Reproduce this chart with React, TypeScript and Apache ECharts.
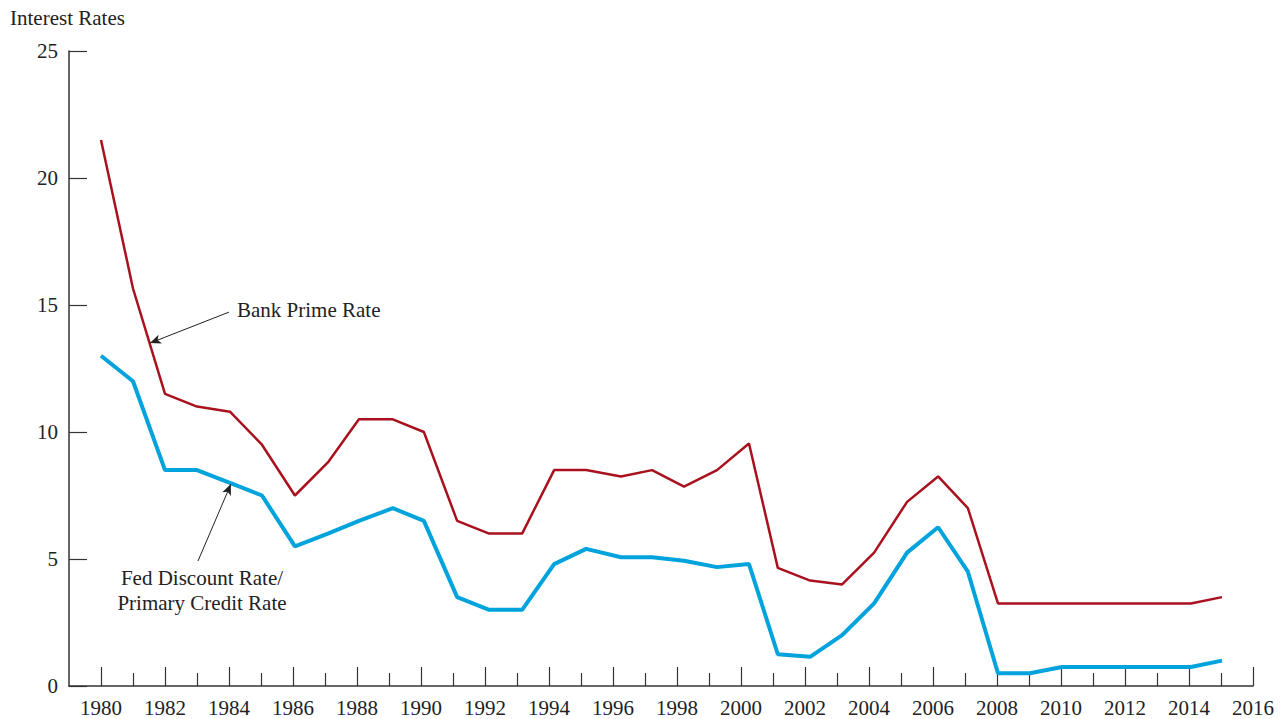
import React, { useEffect, useRef } from "react";
import * as echarts from "echarts";

// x positions (points sit slightly right of the year ticks)
const years = [1980.0, 1981.0, 1982.0, 1983.0, 1984.03, 1985.03, 1986.06, 1987.09, 1988.06, 1989.12, 1990.09, 1991.13, 1992.13, 1993.16, 1994.16, 1995.16, 1996.25, 1997.22, 1998.22, 1999.25, 2000.25, 2001.15, 2002.16, 2003.16, 2004.16, 2005.19, 2006.16, 2007.09, 2008.03, 2009.03, 2010.03, 2011.03, 2012.03, 2013.03, 2014.06, 2015.03];
const primeRate = [21.5, 15.65, 11.5, 11.0, 10.8, 9.5, 7.5, 8.8, 10.5, 10.5, 10.0, 6.5, 6.0, 6.0, 8.5, 8.5, 8.25, 8.5, 7.85, 8.5, 9.55, 4.65, 4.15, 4.0, 5.25, 7.25, 8.25, 7.0, 3.25, 3.25, 3.25, 3.25, 3.25, 3.25, 3.25, 3.5];
const discountRate = [13.0, 12.0, 8.5, 8.5, 8.0, 7.5, 5.5, 6.0, 6.5, 7.0, 6.5, 3.5, 3.0, 3.0, 4.8, 5.4, 5.07, 5.07, 4.93, 4.68, 4.8, 1.25, 1.15, 2.0, 3.25, 5.25, 6.25, 4.5, 0.5, 0.5, 0.75, 0.75, 0.75, 0.75, 0.75, 1.0];
const evenYears = [1980, 1982, 1984, 1986, 1988, 1990, 1992, 1994, 1996, 1998, 2000, 2002, 2004, 2006, 2008, 2010, 2012, 2014, 2016];
const oddYears = [1981, 1983, 1985, 1987, 1989, 1991, 1993, 1995, 1997, 1999, 2001, 2003, 2005, 2007, 2009, 2011, 2013, 2015];
const primeArrow = [[1984.0, 14.72], [1981.53, 13.5]];
const discountArrow = [[1983.03, 4.92], [1984.06, 7.95]];

const FONT = "Liberation Serif";
const AXIS = "#333";
const TEXT = "#222";

export default function App() {
  const ref = useRef<HTMLDivElement>(null);
  useEffect(() => {
    if (!ref.current) return;
    const chart = echarts.init(ref.current, null, { renderer: "svg" });
    const arrowLine = { color: TEXT, width: 1, type: "solid" as const };
    chart.setOption({
      animation: false,
      backgroundColor: "#fff",
      title: {
        text: "Interest Rates",
        left: 5,
        top: 2,
        textStyle: { fontFamily: FONT, fontSize: 21, fontWeight: "normal", color: TEXT },
      },
      grid: { left: 69, right: 35, top: 51, bottom: 33, containLabel: false },
      xAxis: [
        {
          type: "value",
          min: 1979,
          max: 2016,
          interval: 1,
          position: "bottom",
          splitLine: { show: false },
          axisLine: { show: true, onZero: false, lineStyle: { color: AXIS, width: 1.5 } },
          axisTick: { show: true, inside: true, length: 19, customValues: evenYears, lineStyle: { color: AXIS, width: 1.2 } },
          axisLabel: {
            customValues: evenYears,
            margin: 11,
            fontFamily: FONT,
            fontSize: 21,
            color: TEXT,
            formatter: (v: number) => String(v),
          },
        },
        {
          type: "value",
          min: 1979,
          max: 2016,
          interval: 1,
          position: "bottom",
          splitLine: { show: false },
          axisLine: { show: false },
          axisTick: { show: true, inside: true, length: 13, customValues: oddYears, lineStyle: { color: AXIS, width: 1.2 } },
          axisLabel: { show: false },
        },
      ],
      yAxis: {
        type: "value",
        min: 0,
        max: 25,
        interval: 5,
        splitLine: { show: false },
        axisLine: { show: true, lineStyle: { color: AXIS, width: 1.5 } },
        axisTick: { show: true, inside: true, length: 18, lineStyle: { color: AXIS, width: 1.2 } },
        axisLabel: { margin: 11, fontFamily: FONT, fontSize: 21, color: TEXT },
      },
      series: [
        {
          name: "Bank Prime Rate",
          type: "line",
          xAxisIndex: 0,
          data: years.map((y, i) => [y, primeRate[i]]),
          showSymbol: false,
          symbol: "none",
          lineStyle: { color: "#A8111D", width: 2.5 },
          markLine: {
            silent: true,
            symbol: ["none", "arrow"],
            symbolSize: [7, 11],
            label: { show: false },
            lineStyle: arrowLine,
            data: [
              [{ coord: primeArrow[0] }, { coord: primeArrow[1] }],
              [{ coord: discountArrow[0] }, { coord: discountArrow[1] }],
            ],
          },
        },
        {
          name: "Fed Discount Rate/Primary Credit Rate",
          type: "line",
          xAxisIndex: 0,
          data: years.map((y, i) => [y, discountRate[i]]),
          showSymbol: false,
          symbol: "none",
          lineStyle: { color: "#00A3DC", width: 4 },
        },
      ],
      graphic: [
        {
          type: "text",
          left: 237,
          top: 299,
          style: { text: "Bank Prime Rate", fontFamily: FONT, fontSize: 21, fill: TEXT },
        },
        {
          type: "text",
          x: 202,
          y: 565,
          style: {
            text: "Fed Discount Rate/\nPrimary Credit Rate",
            fontFamily: FONT,
            fontSize: 21,
            lineHeight: 25,
            align: "center",
            fill: TEXT,
          },
        },
      ],
    });
    return () => chart.dispose();
  }, []);
  return <div ref={ref} style={{ position: "absolute", left: 0, top: 0, width: 1288, height: 719 }} />;
}
